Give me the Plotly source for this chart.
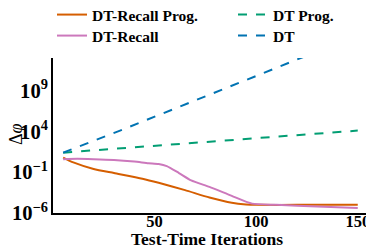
import plotly.graph_objects as go

# Data (iterations, values)
dt_x = [5, 33, 75, 122, 150]
dt_y = [10**1.4, 10**4.1, 10**8.3, 10**13.0, 10**15.8]

dtp_x = [5, 40, 77, 110, 150]
dtp_y = [10**1.4, 10**2.05, 10**2.7, 10**3.35, 10**4.1]

dtr_x = [5, 12, 20, 30, 40, 47, 52, 56, 62, 68, 77, 88, 98, 110, 130, 150]
dtr_y = [10**0.6, 10**0.65, 10**0.6, 10**0.5, 10**0.3, 10**0.1, 10**0.0, 10**-0.25, 10**-1.1, 10**-2.0,
         10**-2.8, 10**-3.9, 10**-4.85, 10**-5.0, 10**-5.2, 10**-5.4]

dtrp_x = [5, 10, 20, 30, 44, 52, 65, 77, 88, 95, 100, 120, 150]
dtrp_y = [10**0.8, 10**0.2, 10**-0.6, 10**-1.1, 10**-1.8, 10**-2.3, 10**-3.2, 10**-4.1, 10**-4.75, 10**-4.95,
          10**-5.0, 10**-5.0, 10**-5.0]

FONT = "Liberation Serif"

W, H = 366, 241  # page body margin of 8px is taken into account
L, T, B = 45, 50, 36
plot_w = W - L
plot_h = H - T - B

fig = go.Figure()
fig.add_trace(go.Scatter(x=dtrp_x, y=dtrp_y, mode="lines", name="DT-Recall Prog.", legend="legend2",
                         line=dict(color="#d55e00", width=2, shape="spline", smoothing=0.6)))
fig.add_trace(go.Scatter(x=dtr_x, y=dtr_y, mode="lines", name="DT-Recall", legend="legend3",
                         line=dict(color="#cc78bc", width=2, shape="spline", smoothing=0.6)))
fig.add_trace(go.Scatter(x=dtp_x, y=dtp_y, mode="lines", name="DT Prog.", legend="legend4",
                         line=dict(color="#029e73", width=2, dash="dash")))
fig.add_trace(go.Scatter(x=dt_x, y=dt_y, mode="lines", name="DT", legend="legend5",
                         line=dict(color="#0173b2", width=2, dash="dash")))

leg_common = dict(xref="container", yref="container", xanchor="left", yanchor="middle",
                  font=dict(family=FONT, size=15.5, weight="bold"), bgcolor="rgba(0,0,0,0)",
                  itemwidth=30, tracegroupgap=0)
row1 = 1 - 7 / H
row2 = 1 - 28 / H
col1 = 44 / W
col2 = 225 / W

fig.update_layout(
    width=W, height=H,
    margin=dict(l=L, r=0, t=T, b=B, autoexpand=False),
    plot_bgcolor="white", paper_bgcolor="white",
    font=dict(family=FONT, color="black"),
    showlegend=True,
    legend=dict(visible=False),
    legend2=dict(x=col1, y=row1, **leg_common),
    legend3=dict(x=col1, y=row2, **leg_common),
    legend4=dict(x=col2, y=row1, **leg_common),
    legend5=dict(x=col2, y=row2, **leg_common),
    xaxis=dict(range=[0, 158], showgrid=False, zeroline=False, showline=True,
               linecolor="black", linewidth=1.5, ticks="",
               tickvals=[50, 100, 150], ticklabelstandoff=-8,
               tickfont=dict(family=FONT, size=16.5, weight="bold")),
    yaxis=dict(type="log", range=[-6, 13], showgrid=False, zeroline=False, showline=True,
               linecolor="black", linewidth=1.5, ticks="",
               tick0=-6, dtick=5, exponentformat="power",
               tickfont=dict(family=FONT, size=16.5, weight="bold")),
    annotations=[
        dict(text="Δ<i>φ</i>", xref="paper", yref="paper",
             x=(8 - L) / plot_w, y=(plot_h + T - 126) / plot_h,
             xanchor="center", yanchor="middle", textangle=-90, showarrow=False,
             font=dict(family=FONT, size=18, color="black")),
        dict(text="<b>Test-Time Iterations</b>", xref="paper", yref="paper",
             x=(199 - L) / plot_w, y=-(230.5 - (T + plot_h)) / plot_h,
             xanchor="center", yanchor="middle", showarrow=False,
             font=dict(family=FONT, size=17.5, color="black")),
    ],
)

fig.write_html("out.html")
